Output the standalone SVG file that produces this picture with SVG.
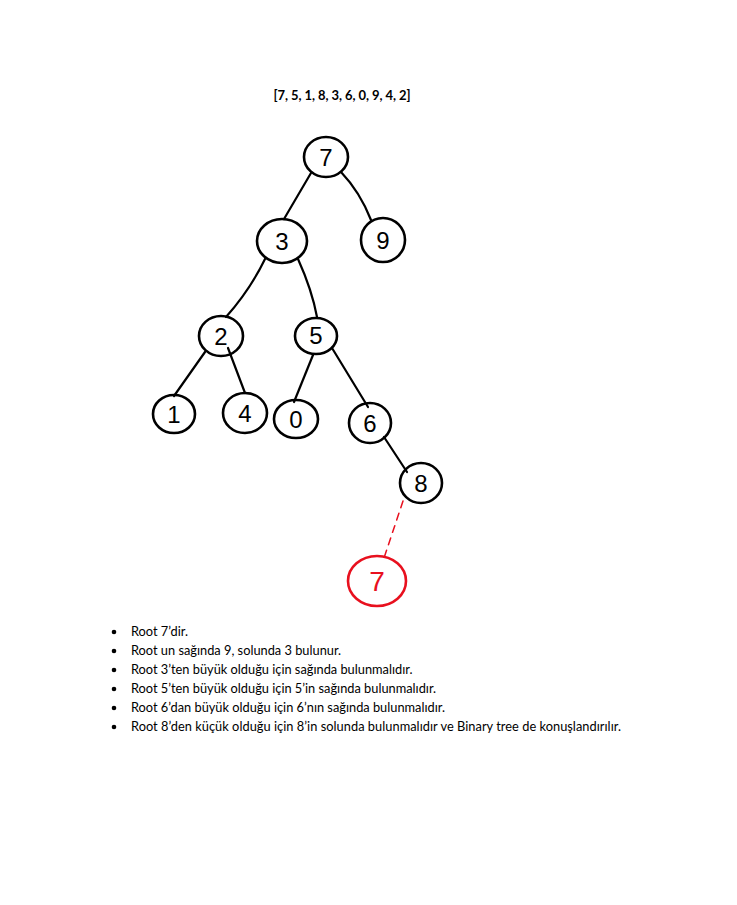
<svg xmlns="http://www.w3.org/2000/svg" width="737" height="905" viewBox="0 0 737 905">
<style>
.n ellipse{fill:none;stroke:#000;stroke-width:2.6}
.n text{font-family:"Liberation Sans",Arial,sans-serif;font-size:24px;fill:#000;text-anchor:middle}
.r ellipse{stroke:#e8101e}
.r text{fill:#e8101e;font-size:28px}
.e path{fill:none;stroke:#000;stroke-width:2.2;stroke-linecap:round}
.e .d{stroke:#e8101e;stroke-width:1.5;stroke-dasharray:7 6}
.t{font-family:Lato,"Open Sans",sans-serif;font-size:12.8px;fill:#000}
</style>
<rect width="737" height="905" fill="#fff"/>
<text x="342" y="100" font-family="Lato,'Open Sans',sans-serif" font-weight="bold" font-size="13px" text-anchor="middle" textLength="137">[7, 5, 1, 8, 3, 6, 0, 9, 4, 2]</text>
<g id="edges" class="e">
<path d="M311 173 L284 219"/>
<path d="M341 172 Q360 192 371 220"/>
<path d="M265 259 Q250 290 226 317"/>
<path d="M298 259 Q312 290 317 317"/>
<path d="M205 352 L174 396"/>
<path d="M228 348 L245 393"/>
<path d="M313 355 L294 402"/>
<path d="M332 348 L368 407"/>
<path d="M384 437 L407 472"/>
<path class="d" d="M403 501 L384 558"/>
</g>
<g id="n7" class="n"><ellipse cx="326" cy="157" rx="22" ry="20"/><text x="326" y="166">7</text></g>
<g id="n3" class="n"><ellipse cx="282" cy="241" rx="25" ry="22"/><text x="282" y="250">3</text></g>
<g id="n9" class="n"><ellipse cx="383" cy="240" rx="22" ry="22"/><text x="383" y="249">9</text></g>
<g id="n2" class="n"><ellipse cx="221" cy="336" rx="22" ry="20"/><text x="221" y="345">2</text></g>
<g id="n5" class="n"><ellipse cx="316" cy="336" rx="21" ry="18"/><text x="316" y="344">5</text></g>
<g id="n1" class="n"><ellipse cx="174" cy="414" rx="21" ry="19"/><text x="174" y="423">1</text></g>
<g id="n4" class="n"><ellipse cx="245" cy="413" rx="22" ry="20"/><text x="245" y="422">4</text></g>
<g id="n0" class="n"><ellipse cx="296" cy="419" rx="22" ry="19"/><text x="296" y="428">0</text></g>
<g id="n6" class="n"><ellipse cx="370" cy="423" rx="21" ry="20"/><text x="370" y="432">6</text></g>
<g id="n8" class="n"><ellipse cx="421" cy="483" rx="21" ry="20"/><text x="421" y="492">8</text></g>
<g id="n7new" class="n r"><ellipse cx="377" cy="581" rx="29" ry="25"/><text x="377" y="591">7</text></g>
<g id="notes">
<circle cx="114" cy="632" r="2.3"/>
<circle cx="114" cy="651" r="2.3"/>
<circle cx="114" cy="670" r="2.3"/>
<circle cx="114" cy="689" r="2.3"/>
<circle cx="114" cy="708" r="2.3"/>
<circle cx="114" cy="727" r="2.3"/>
<text class="t" x="131" y="636">Root 7’dir.</text>
<text class="t" x="131" y="655">Root un sağında 9, solunda 3 bulunur.</text>
<text class="t" x="131" y="674">Root 3’ten büyük olduğu için sağında bulunmalıdır.</text>
<text class="t" x="131" y="693">Root 5’ten büyük olduğu için 5’in sağında bulunmalıdır.</text>
<text class="t" x="131" y="712">Root 6’dan büyük olduğu için 6’nın sağında bulunmalıdır.</text>
<text class="t" x="131" y="731" textLength="490">Root 8’den küçük olduğu için 8’in solunda bulunmalıdır ve Binary tree de konuşlandırılır.</text>
</g>
</svg>
